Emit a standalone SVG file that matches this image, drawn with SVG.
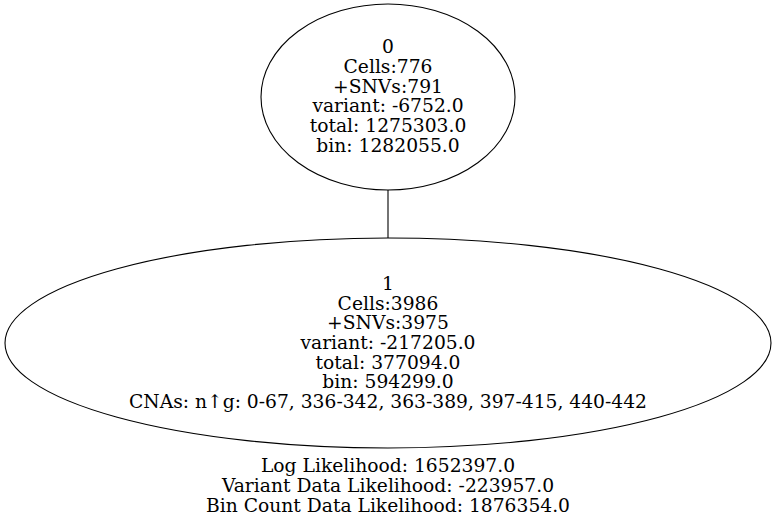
<svg xmlns="http://www.w3.org/2000/svg" width="776" height="522" viewBox="0 0 776 522">
<style>
text{font-family:"DejaVu Serif","Liberation Serif",serif;font-size:18.7px;text-anchor:middle;fill:#000}
.n{fill:none;stroke:#000;stroke-width:1.1}
.e{stroke:#000;stroke-width:1.1;fill:none}
</style>
<rect width="776" height="522" fill="#fff"/>
<g id="edges">
<line class="e" x1="388" y1="190" x2="388" y2="238"/>
</g>
<g id="node0">
<ellipse class="n" cx="388" cy="97" rx="127" ry="93"/>
<text x="388" y="53">0</text>
<text x="388" y="73">Cells:776</text>
<text x="388" y="92.5">+SNVs:791</text>
<text x="388" y="112">variant: -6752.0</text>
<text x="388" y="132">total: 1275303.0</text>
<text x="388" y="152">bin: 1282055.0</text>
</g>
<g id="node1">
<ellipse class="n" cx="388" cy="343" rx="383" ry="105"/>
<text x="388" y="290">1</text>
<text x="388" y="309.5">Cells:3986</text>
<text x="388" y="329">+SNVs:3975</text>
<text x="388" y="349">variant: -217205.0</text>
<text x="388" y="368.5">total: 377094.0</text>
<text x="388" y="388">bin: 594299.0</text>
<text x="388" y="408">CNAs: n↑g: 0-67, 336-342, 363-389, 397-415, 440-442</text>
</g>
<g id="graph-label">
<text x="388" y="472">Log Likelihood: 1652397.0</text>
<text x="388" y="492">Variant Data Likelihood: -223957.0</text>
<text x="388" y="512">Bin Count Data Likelihood: 1876354.0</text>
</g>
</svg>
